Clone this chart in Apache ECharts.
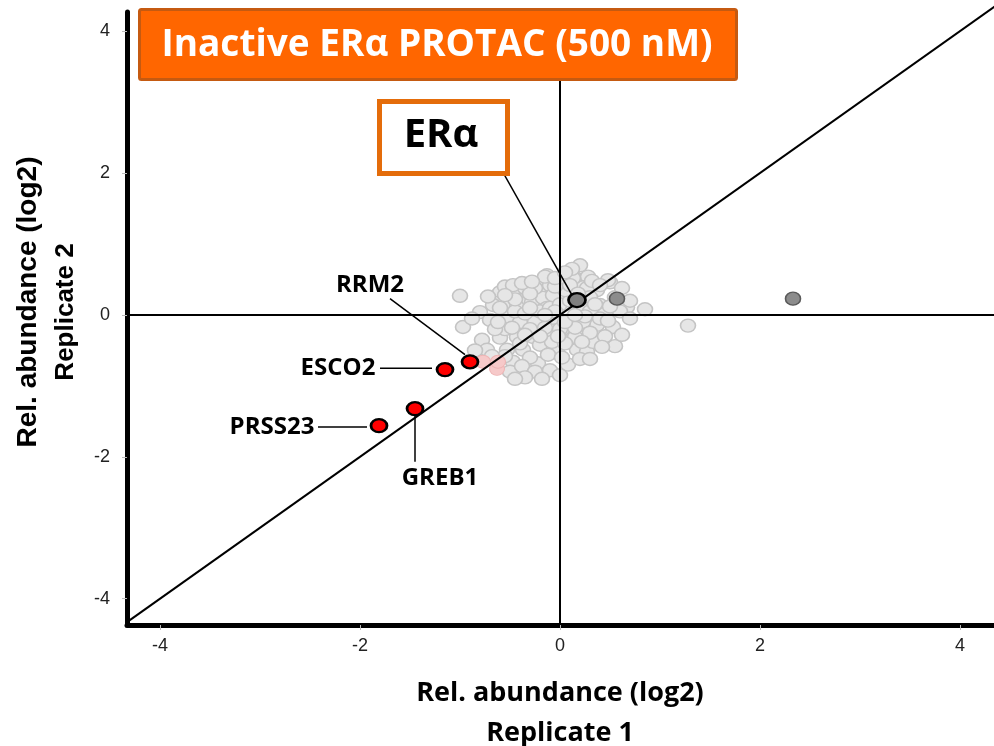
<!DOCTYPE html>
<html>
<head>
<meta charset="utf-8">
<script src="https://cdn.jsdelivr.net/npm/echarts@6/dist/echarts.min.js"></script>
<style>
  html, body { margin: 0; padding: 0; background: #fff; }
  #chart { width: 994px; height: 746px; }
</style>
</head>
<body>
<div id="chart"></div>
<script>
// 背景蛋白（灰色点）[rep1, rep2]
const grayPoints = [
  [-1.00, 0.27], [-0.60, 0.32], [-0.43, 0.31], [-0.33, 0.32], [-0.20, 0.39], [-0.10, 0.42],
  [-0.13, 0.56], [0.15, 0.52], [0.28, 0.54], [0.20, 0.70], [0.50, 0.46], [0.23, 0.39],
  [0.37, 0.35], [-0.65, 0.17], [-0.50, 0.17], [-0.37, 0.21], [-0.23, 0.21], [-0.10, 0.24],
  [0.40, 0.14], [0.67, 0.11], [0.85, 0.08], [-0.80, 0.04], [1.28, -0.15], [-0.97, -0.17],
  [-0.70, -0.07], [-0.53, -0.03], [-0.40, -0.10], [-0.25, -0.10], [-0.78, -0.35], [-0.60, -0.32],
  [-0.43, -0.31], [-0.27, -0.31], [-0.13, -0.28], [0.13, -0.32], [0.33, -0.35], [0.55, -0.44],
  [0.53, -0.17], [0.37, -0.14], [0.23, -0.10], [0.10, -0.07], [-0.07, -0.04], [-0.73, -0.49],
  [-0.53, -0.49], [-0.37, -0.49], [-0.22, -0.68], [-0.47, -0.66], [-0.50, -0.80], [0.08, -0.70],
  [-0.03, -0.49], [0.17, -0.49], [0.27, -0.52], [-0.67, 0.14], [-0.43, 0.11], [-0.28, 0.18],
  [-0.17, 0.24], [-0.07, 0.28], [-0.13, 0.10], [-0.15, 0.54], [-0.35, 0.38], [-0.25, 0.38],
  [0.48, 0.49], [0.27, 0.38], [0.13, 0.52], [0.12, 0.65], [0.33, -0.38], [0.15, -0.31],
  [-0.45, 0.05], [-0.35, 0.02], [-0.20, 0.05], [-0.10, 0.10], [0.00, 0.15], [0.10, 0.20],
  [0.20, 0.10], [0.30, 0.05], [0.05, 0.35], [-0.05, 0.40], [0.10, 0.42], [-0.30, 0.30],
  [-0.45, 0.22], [-0.60, 0.10], [-0.30, -0.20], [-0.15, -0.18], [0.00, -0.20], [0.15, -0.18],
  [0.30, -0.25], [0.45, -0.30], [-0.40, -0.40], [-0.20, -0.42], [-0.08, -0.38], [0.05, -0.40],
  [-0.30, -0.60], [-0.12, -0.56], [0.02, -0.60], [-0.38, -0.72], [-0.25, -0.80], [-0.10, -0.78],
  [0.25, -0.02], [0.45, 0.02], [0.55, 0.25], [0.30, 0.25], [0.18, 0.30], [-0.55, -0.20],
  [-0.65, -0.20], [0.60, 0.05], [0.70, -0.05], [0.40, -0.05], [-0.05, 0.05], [0.05, -0.10],
  [-0.72, 0.26], [-0.55, 0.40], [-0.47, 0.42], [-0.38, 0.45], [-0.28, 0.47], [-0.05, 0.52],
  [0.05, 0.60], [0.32, 0.48], [0.40, 0.42], [0.62, 0.38], [0.70, 0.20], [0.50, 0.12],
  [-0.88, -0.05], [-0.62, -0.10], [-0.48, -0.18], [-0.35, -0.28], [-0.20, -0.30], [-0.02, -0.30],
  [0.22, -0.38], [0.42, -0.45], [0.62, -0.28], [0.20, -0.62], [-0.18, -0.90], [-0.35, -0.88],
  [-0.55, -0.58], [-0.68, -0.58], [-0.85, -0.50], [-0.45, -0.90], [0.00, -0.85], [0.30, -0.62],
  [-0.15, 0.00], [0.15, 0.00], [-0.30, 0.10], [-0.55, 0.28], [0.35, 0.15], [0.48, -0.08]
]
// 浅红色点
const pinkPoints = [[-0.77, -0.66], [-0.63, -0.76], [-0.62, -0.66]]
// 深灰色点
const darkPoints = [[0.57, 0.23], [2.33, 0.23]]
const eraPoint = [0.17, 0.21]
// 标注的红色蛋白
const redNames = ['RRM2', 'ESCO2', 'GREB1', 'PRSS23']
const redPoints = [[-0.90, -0.66], [-1.15, -0.77], [-1.45, -1.32], [-1.81, -1.56]]
// 文字位置与引线
const labelPos = [[-1.90, 0.42], [-2.22, -0.75], [-1.20, -2.30], [-2.88, -1.58]]
const leaders = [
  [[-1.70, 0.23], [-0.95, -0.56]],
  [[-1.80, -0.75], [-1.28, -0.75]],
  [[-1.45, -1.42], [-1.45, -2.07]],
  [[-2.42, -1.58], [-1.93, -1.58]],
  [[-0.57, 2.01], [0.12, 0.28]]
]
const tickValues = [-4, -2, 0, 2, 4]

const chart = echarts.init(document.getElementById('chart'))

const leaderSeries = leaders.map(seg => ({
  type: 'line',
  data: seg,
  symbol: 'none',
  silent: true,
  z: 4,
  lineStyle: { color: '#000', width: 1.5 }
}))

const option = {
  animation: false,
  grid: { left: 127, right: 0, top: 12, bottom: 121 },
  xAxis: {
    type: 'value',
    min: -4.33,
    max: 4.34,
    splitLine: { show: false },
    axisLine: { onZero: false, lineStyle: { color: '#000', width: 5 } },
    axisTick: { customValues: tickValues, length: 5, lineStyle: { color: '#bbb' } },
    axisLabel: {
      customValues: tickValues,
      margin: 12,
      color: '#222',
      fontFamily: 'Liberation Sans',
      fontSize: 18
    }
  },
  yAxis: {
    type: 'value',
    min: -4.37,
    max: 4.27,
    splitLine: { show: false },
    axisLine: { onZero: false, lineStyle: { color: '#000', width: 5 } },
    axisTick: { customValues: tickValues, length: 5, lineStyle: { color: '#bbb' } },
    axisLabel: {
      customValues: tickValues,
      margin: 17,
      color: '#222',
      fontFamily: 'Liberation Sans',
      fontSize: 18
    }
  },
  series: [
    {
      type: 'scatter',
      data: grayPoints,
      symbolSize: [15, 13],
      z: 2,
      itemStyle: { color: '#e6e6e6', borderColor: '#c4c4c4', borderWidth: 1.5, opacity: 1 }
    },
    {
      type: 'scatter',
      data: pinkPoints,
      symbolSize: [15, 13],
      z: 2,
      itemStyle: { color: '#f6c9c9', borderColor: '#eeb4b4', borderWidth: 1, opacity: 1 }
    },
    {
      // 对角线 y = x
      type: 'line',
      data: [[-4.33, -4.33], [4.40, 4.40]],
      symbol: 'none',
      clip: false,
      silent: true,
      z: 3,
      lineStyle: { color: '#000', width: 2 },
      markLine: {
        symbol: 'none',
        silent: true,
        label: { show: false },
        lineStyle: { color: '#000', width: 2, type: 'solid' },
        data: [{ xAxis: 0 }, { yAxis: 0 }]
      }
    },
    ...leaderSeries,
    {
      type: 'scatter',
      data: darkPoints,
      symbolSize: [15, 13],
      z: 5,
      itemStyle: { color: '#8c8c8c', borderColor: '#5a5a5a', borderWidth: 1.5, opacity: 1 }
    },
    {
      type: 'scatter',
      data: [eraPoint],
      symbolSize: [17, 14],
      z: 6,
      itemStyle: { color: '#808080', borderColor: '#000', borderWidth: 2.5, opacity: 1 }
    },
    {
      type: 'scatter',
      data: redPoints,
      symbolSize: [16, 13],
      z: 6,
      itemStyle: { color: '#ff0000', borderColor: '#000', borderWidth: 2.5, opacity: 1 }
    },
    {
      type: 'scatter',
      data: redNames.map((n, i) => ({ name: n, value: labelPos[i] })),
      symbolSize: 1,
      z: 7,
      silent: true,
      itemStyle: { color: 'transparent', opacity: 1 },
      label: {
        show: true,
        position: 'inside',
        formatter: '{b}',
        color: '#000',
        opacity: 1,
        fontFamily: 'Open Sans',
        fontWeight: 'bold',
        fontSize: 24
      }
    }
  ],
  graphic: [
    {
      type: 'rect',
      left: 138, top: 8, z: 100,
      shape: { width: 597, height: 70, r: 2 },
      style: { fill: '#ff6600', stroke: '#c55a11', lineWidth: 3 }
    },
    {
      type: 'text',
      x: 437, y: 45, z: 101,
      style: {
        text: 'Inactive ERα PROTAC (500 nM)',
        fill: '#fff',
        font: 'bold 37px "Open Sans"',
        align: 'center',
        verticalAlign: 'middle'
      }
    },
    {
      type: 'rect',
      left: 377, top: 99, z: 100,
      shape: { width: 128, height: 72 },
      style: { fill: '#fff', stroke: '#e46c0a', lineWidth: 5 }
    },
    {
      type: 'text',
      x: 441, y: 136, z: 101,
      style: {
        text: 'ERα',
        fill: '#000',
        font: 'bold 40px "Open Sans"',
        align: 'center',
        verticalAlign: 'middle'
      }
    },
    {
      type: 'text',
      x: 560, y: 693, z: 101,
      style: {
        text: 'Rel. abundance (log2)',
        fill: '#000',
        font: 'bold 27px "Open Sans"',
        align: 'center',
        verticalAlign: 'middle'
      }
    },
    {
      type: 'text',
      x: 560, y: 733, z: 101,
      style: {
        text: 'Replicate 1',
        fill: '#000',
        font: 'bold 27px "Open Sans"',
        align: 'center',
        verticalAlign: 'middle'
      }
    },
    {
      type: 'text',
      x: 28, y: 302, rotation: Math.PI / 2, z: 101,
      style: {
        text: 'Rel. abundance (log2)',
        fill: '#000',
        font: 'bold 28px "Liberation Sans"',
        align: 'center',
        verticalAlign: 'middle'
      }
    },
    {
      type: 'text',
      x: 66, y: 312, rotation: Math.PI / 2, z: 101,
      style: {
        text: 'Replicate 2',
        fill: '#000',
        font: 'bold 26px "Liberation Sans"',
        align: 'center',
        verticalAlign: 'middle'
      }
    }
  ]
}

chart.setOption(option)
</script>
</body>
</html>
